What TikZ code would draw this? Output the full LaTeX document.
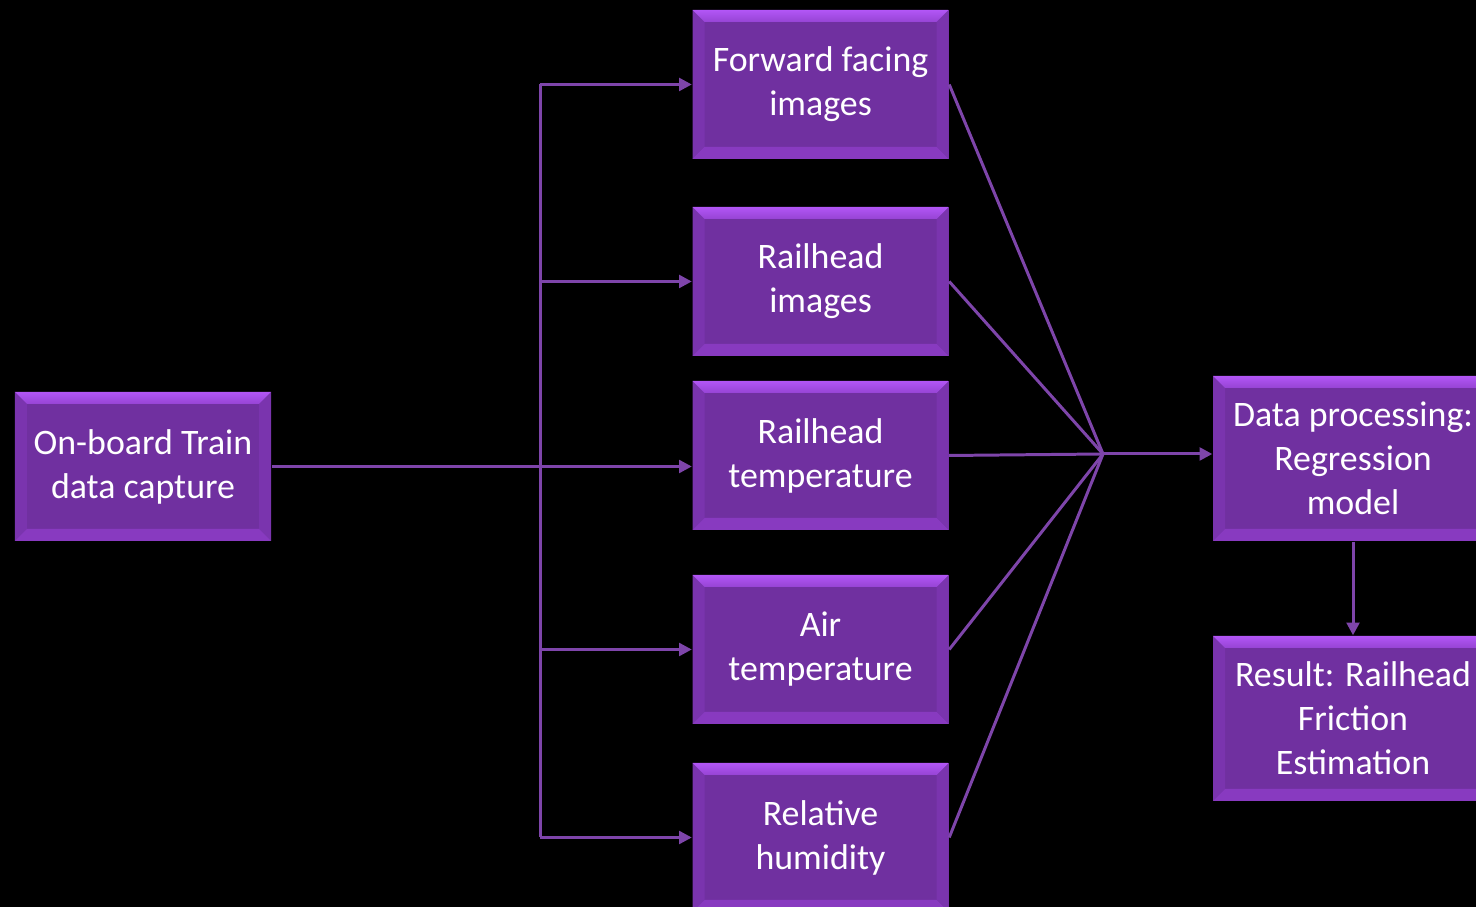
\documentclass[tikz,border=0pt]{standalone}
\usepackage{fontspec}
\setmainfont{Carlito}
\usepackage{tikz}
\usetikzlibrary{arrows.meta,positioning,calc}
\definecolor{boxfill}{RGB}{112,48,160}
\definecolor{boxtop}{RGB}{150,68,212}
\definecolor{boxedge}{RGB}{178,86,246}
\definecolor{boxside}{RGB}{122,52,174}
\definecolor{boxbot}{RGB}{136,58,192}
\colorlet{linkcol}{boxfill!90!white}

\begin{document}
\begin{tikzpicture}[
  font=\fontsize{10.2}{12.5}\selectfont,
  bevelbox/.style={rectangle, minimum width=2.56cm, minimum height=1.49cm,
    inner sep=0pt, fill=boxfill, text=white, align=center,
    path picture={
      \coordinate (nw) at (path picture bounding box.north west);
      \coordinate (ne) at (path picture bounding box.north east);
      \coordinate (sw) at (path picture bounding box.south west);
      \coordinate (se) at (path picture bounding box.south east);
      \fill[boxside] (nw) -- ($(nw)+(0.12,-0.12)$) -- ($(sw)+(0.12,0.12)$) -- (sw) -- cycle;
      \fill[boxside] (ne) -- ($(ne)+(-0.12,-0.12)$) -- ($(se)+(-0.12,0.12)$) -- (se) -- cycle;
      \fill[boxbot] (sw) -- ($(sw)+(0.12,0.12)$) -- ($(se)+(-0.12,0.12)$) -- (se) -- cycle;
      \shade[top color=boxedge, bottom color=boxtop] (nw) -- (ne) -- ($(ne)+(-0.12,-0.12)$) -- ($(nw)+(0.12,-0.12)$) -- cycle;
    }},
  bigbox/.style={bevelbox, minimum width=2.80cm, minimum height=1.65cm},
  link/.style={draw=linkcol, line width=0.85pt},
  tip/.style={-{Triangle[length=3.6pt,width=3.6pt]}},
]
  \useasboundingbox (0,0) rectangle (14.76,9.07);
  \clip (0,0) rectangle (14.76,9.07);
  \fill[black] (0,0) rectangle (14.76,9.07);

  % source, five measured inputs, model and result
  \node[bevelbox] (train) at (1.43,4.405) {On-board Train\\data capture};
  \node[bevelbox] (fwd)   at (8.205,8.225) {Forward facing\\images};
  \node[bevelbox] (rimg)  at (8.205,6.255) {Railhead\\images};
  \node[bevelbox] (rtemp) at (8.205,4.515) {Railhead\\temperature};
  \node[bevelbox] (atemp) at (8.205,2.575) {Air\\temperature};
  \node[bevelbox] (hum)   at (8.205,0.695) {Relative\\humidity};
  \node[bigbox] (model)  at (13.53,4.485) {Data processing:\\Regression\\model};
  \node[bigbox] (result) at (13.53,1.885) {Result: Railhead\\Friction\\Estimation};

  \coordinate (bus) at (5.40,0);
  \coordinate (hub) at (11.03,4.53);

  % fan out from the capture line
  \draw[link] (bus |- fwd.west) -- (bus |- hum.west);
  \draw[link, tip] (train.east) -- (train.east -| rtemp.west);
  \foreach \n in {fwd, rimg, atemp, hum} {
    \draw[link, tip] (bus |- \n.west) -- (\n.west);
  }
  % fan in to the model
  \foreach \n in {fwd, rimg, rtemp, atemp, hum} {
    \draw[link] (\n.east) -- (hub);
  }
  \draw[link, tip] (hub) -- (hub -| model.west);
  \draw[link, tip] (model.south) -- (result.north);
\end{tikzpicture}
\end{document}
